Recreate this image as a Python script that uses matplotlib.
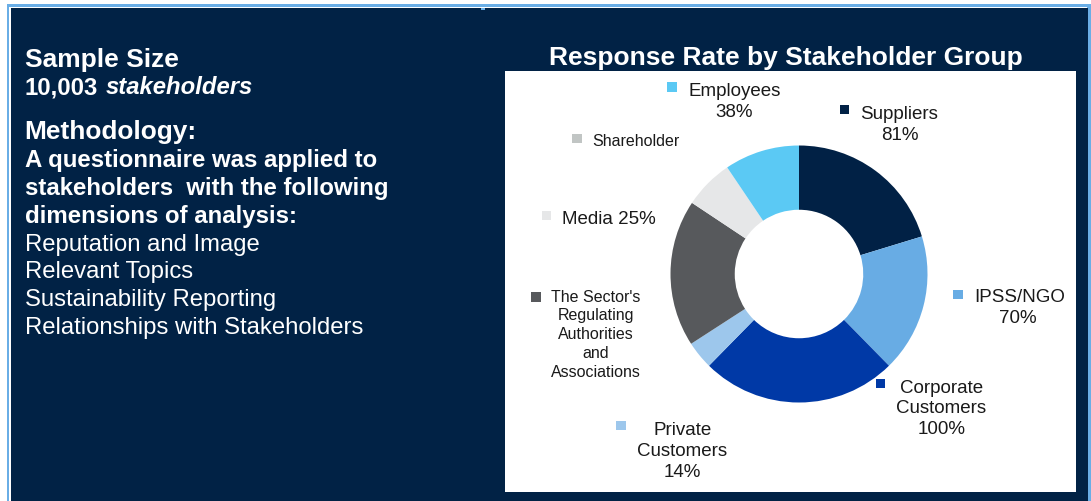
import matplotlib.pyplot as plt
from matplotlib.patches import Rectangle

plt.rcParams['font.family'] = ['Liberation Sans', 'DejaVu Sans']

# stakeholder groups, clockwise from 12 o'clock
groups = ['Suppliers', 'IPSS/NGO', 'Corporate Customers', 'Private Customers',
          "The Sector's Regulating Authorities and Associations", 'Media',
          'Shareholder', 'Employees']
share = [20.2, 17.3, 24.6, 3.5, 18.4, 6.2, 0.0, 9.4]
response_rate = ['81%', '70%', '100%', '14%', None, '25%', None, '38%']
colors = ['#012145', '#68ace4', '#0039a6', '#9dc7ec', '#57595c', '#e6e7e8',
          '#c1c5c4', '#5bc9f4']

label_lines = [
    ['Suppliers', '81%'],
    ['IPSS/NGO', '70%'],
    ['Corporate', 'Customers', '100%'],
    ['Private', 'Customers', '14%'],
    ["The Sector's", 'Regulating', 'Authorities', 'and', 'Associations'],
    ['Media 25%'],
    ['Shareholder'],
    ['Employees', '38%'],
]

methodology = ['Reputation and Image', 'Relevant Topics',
               'Sustainability Reporting', 'Relationships with Stakeholders']

NAVY = '#012245'
EDGE = '#6aaee6'
INK = '#1a1a1a'

W, H = 1091, 502
fig = plt.figure(figsize=(W / 100, H / 100), dpi=100)
fig.patch.set_facecolor('white')

# background layer in pixel coordinates (y down)
bg = fig.add_axes([0, 0, 1, 1])
bg.set_xlim(0, W)
bg.set_ylim(H, 0)
bg.axis('off')

bg.add_patch(Rectangle((7, 5), W - 7, H - 5, color=EDGE, lw=0))
bg.add_patch(Rectangle((9.3, 7.6), 1078, H, color='white', lw=0))
bg.add_patch(Rectangle((11, 9), 1076.7, H, color=NAVY, lw=0))
bg.add_patch(Rectangle((480.7, 9), 4.5, 1.8, color=EDGE, lw=0))
bg.add_patch(Rectangle((504.5, 71.7), 571.3, 421, color='white', lw=0))

# left-hand text block
bg.text(25, 66.7, 'Sample Size', color='white', fontsize=19, fontweight='bold')
bg.text(25, 94, '10,003', color='white', fontsize=17.2, fontweight='bold')
bg.text(106, 94, 'stakeholders', color='white', fontsize=17.2, fontweight='bold',
        fontstyle='italic')
bg.text(24, 139.3, 'Methodology:', color='white', fontsize=18.9, fontweight='bold')
bold_lines = ['A questionnaire was applied to',
              'stakeholders  with the following',
              'dimensions of analysis:']
for i, line in enumerate(bold_lines):
    bg.text(25, 166.7 + i * 28, line, color='white', fontsize=17.3,
            fontweight='bold')
for i, line in enumerate(methodology):
    bg.text(25, 250.7 + i * 27.8, line, color='white', fontsize=17.2)

bg.text(785.5, 65, 'Response Rate by Stakeholder Group', color='white',
        fontsize=19, fontweight='bold', ha='center')

# donut
cx, cy, R = 799, 275, 128.5
pie_ax = fig.add_axes([(cx - R) / W, (H - cy - R) / H, 2 * R / W, 2 * R / H])
pie_ax.pie(share, colors=colors, startangle=90, counterclock=False, radius=1,
           wedgeprops=dict(width=0.5, edgecolor='none', linewidth=0))
pie_ax.set_xlim(-1, 1)
pie_ax.set_ylim(-1, 1)
pie_ax.set_aspect('auto')
pie_ax.axis('off')

# label layout: marker box, text anchor, alignment, line step, font size
layout = [
    ((839.6, 106), (860.4, 119.3), 'left', 21, 13.5),
    ((952.8, 290.7), (974.7, 301.7), 'left', 21.6, 13.5),
    ((875.5, 380), (941.3, 392.7), 'center', 20.8, 13.5),
    ((616, 421.7), (682.3, 435), 'center', 20.8, 13.5),
    ((531, 293.3), (595.8, 301.7), 'center', 18.75, 11.5),
    ((541.5, 212), (562.3, 224), 'left', 21, 13.5),
    ((571.7, 135), (592.5, 145.7), 'left', 21, 11.5),
    ((667, 83.3), (688.7, 96), 'left', 21.3, 13.5),
]
# second lines of the "name / rate" labels are centred under the name
rate_x = {0: 899.5, 1: 1018.3, 7: 733.6}

for i, ((mx, my), (tx, ty), ha, step, size) in enumerate(layout):
    bg.add_patch(Rectangle((mx, my), 9.8, 9.2, color=colors[i], lw=0))
    lines = label_lines[i]
    for j, line in enumerate(lines):
        x, align = tx, ha
        if j > 0 and i in rate_x:
            x, align = rate_x[i], 'center'
        bg.text(x, ty + j * step, line, color=INK, fontsize=size, ha=align)

fig.savefig('out.png', dpi=100, facecolor=fig.get_facecolor())
